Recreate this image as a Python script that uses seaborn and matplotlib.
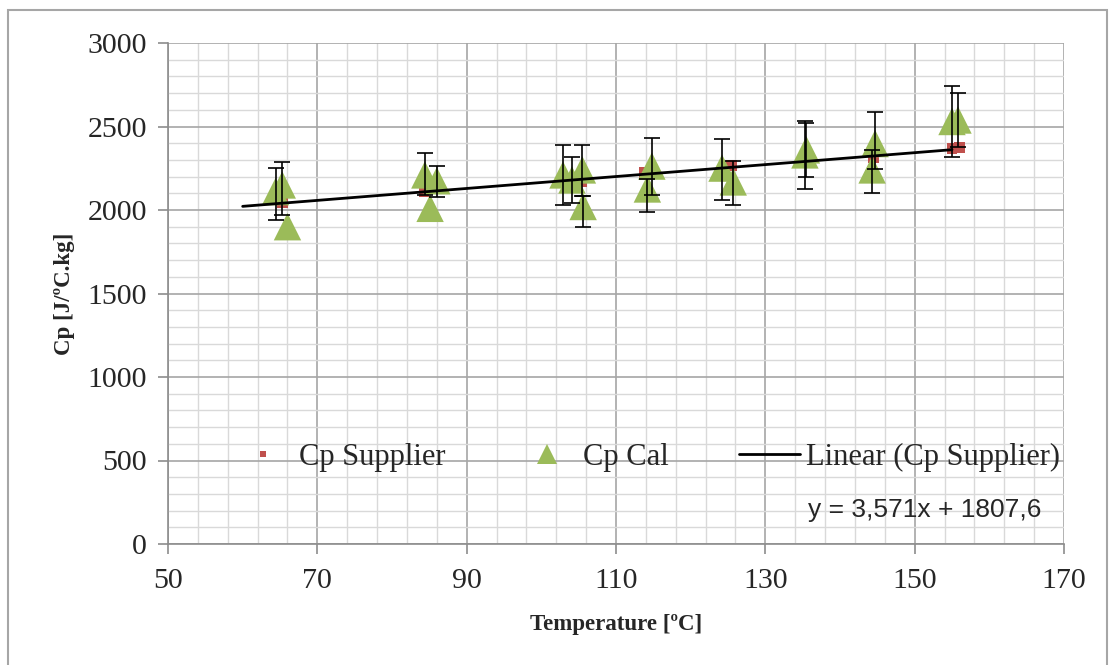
import numpy as np
import pandas as pd
import matplotlib
matplotlib.use("Agg")
import matplotlib.pyplot as plt
import seaborn as sns
from matplotlib.lines import Line2D
from matplotlib.patches import Rectangle
from matplotlib.ticker import MultipleLocator

# ---------------- data ----------------
supplier_temp = [65.3, 84.3, 105.4, 113.8, 125.5, 135.3, 144.5, 155.0, 156.0]
supplier_cp = [2042, 2108, 2172, 2226, 2265, 2290, 2313, 2366, 2372]

cal_temp = [65.3, 64.4, 66.0, 84.4, 86.0, 85.1, 102.9, 104.1, 105.5, 105.6,
            114.8, 114.2, 124.2, 125.7, 135.3, 135.5, 144.7, 144.3, 155.0, 155.8]
cal_cp = [2150, 2110, 1900, 2210, 2175, 2010, 2210, 2180, 2240, 2021,
          2263, 2126, 2251, 2168, 2330, 2360, 2398, 2240, 2530, 2539]
cal_err_low = [180, 170, np.nan, 120, 97, np.nan, 180, 138, 156, 123,
               173, 138, 191, 138, 204, 162, 150, 138, 213, 161]
cal_err_up = [137, 141, np.nan, 131, 88, np.nan, 179, 137, 149, 63,
              168, 60, 174, 125, 203, 161, 189, 120, 212, 161]

trend_slope = 3.571
trend_intercept = 1807.6
trend_range = [60, 155]

legend_labels = ["Cp Supplier", "Cp Cal", "Linear (Cp Supplier)"]
equation_text = "y = 3,571x + 1807,6"
x_label = "Temperature [ºC]"
y_label = "Cp [J/ºC.kg]"

# ---------------- style ----------------
sns.set_style("white")
plt.rcParams["font.family"] = ["Liberation Serif", "DejaVu Serif"]

RED = "#C0504D"
GREEN = "#9BBB59"
MAJOR = "#A6A6A6"
MINOR = "#D9D9D9"

fig = plt.figure(figsize=(11.15, 6.65), dpi=100)
ax = fig.add_axes([168 / 1115, 1 - 544 / 665, (1064 - 168) / 1115, (544 - 43) / 665])

sup_df = pd.DataFrame({"T": supplier_temp, "Cp": supplier_cp})
cal_df = pd.DataFrame({"T": cal_temp, "Cp": cal_cp, "lo": cal_err_low, "up": cal_err_up})
tx = np.array(trend_range, dtype=float)
trend_df = pd.DataFrame({"T": tx, "Cp": trend_slope * tx + trend_intercept})

sns.scatterplot(data=sup_df, x="T", y="Cp", marker="s", s=60, color=RED,
                edgecolor="none", ax=ax, zorder=2.6, legend=False)
sns.scatterplot(data=cal_df, x="T", y="Cp", marker="^", s=390, color=GREEN,
                edgecolor="none", ax=ax, zorder=3, legend=False)
eb = cal_df.dropna()
ax.errorbar(eb["T"], eb["Cp"], yerr=[eb["lo"], eb["up"]], fmt="none",
            ecolor="black", elinewidth=1.2, capsize=6, capthick=1.2, zorder=3.5)
sns.lineplot(data=trend_df, x="T", y="Cp", color="black", linewidth=2.0,
             ax=ax, zorder=4)

ax.set_xlim(50, 170)
ax.set_ylim(0, 3000)
ax.xaxis.set_major_locator(MultipleLocator(20, offset=10))
ax.xaxis.set_minor_locator(MultipleLocator(4, offset=2))
ax.yaxis.set_major_locator(MultipleLocator(500))
ax.yaxis.set_minor_locator(MultipleLocator(100))
ax.grid(which="major", color=MAJOR, linewidth=1.2)
ax.grid(which="minor", color=MINOR, linewidth=1.0)
ax.set_axisbelow(True)

for side in ["top", "right"]:
    ax.spines[side].set_visible(False)
for side in ["left", "bottom"]:
    ax.spines[side].set_color("#8C8C8C")
    ax.spines[side].set_linewidth(1.2)

ax.tick_params(which="major", direction="out", length=7, width=1.2, color="#8C8C8C",
               labelsize=21.5, pad=8, left=True, bottom=True)
ax.tick_params(which="minor", length=0)
ax.tick_params(axis="x", pad=10)

ax.set_xlabel(x_label, fontsize=16.5, fontweight="bold", labelpad=15)
ax.set_ylabel(y_label, fontsize=16.5, fontweight="bold", labelpad=9)

handles = [
    Line2D([], [], marker="s", color=RED, linestyle="none", markersize=5, markeredgewidth=0),
    Line2D([], [], marker="^", color=GREEN, linestyle="none", markersize=14, markeredgewidth=0),
    Line2D([], [], color="black", linewidth=2.0),
]
ax.legend(handles, legend_labels, ncol=3, loc="center left",
          bbox_to_anchor=((232 - 168) / 896, (544 - 457) / 501),
          frameon=False, fontsize=22, handlelength=2.0, handletextpad=0.2,
          columnspacing=2.3, borderpad=0, borderaxespad=0)

ax.text((808 - 168) / 896, (544 - 510) / 501, equation_text, transform=ax.transAxes,
        ha="left", va="center", fontsize=19, family=["Liberation Sans", "DejaVu Sans"])

fig.patches.append(Rectangle((8 / 1115, -0.02), (1107 - 8) / 1115, 1 - 10 / 665 + 0.02,
                             transform=fig.transFigure, fill=False,
                             edgecolor="#A6A6A6", linewidth=1.5))

fig.savefig("out.png", dpi=100)
